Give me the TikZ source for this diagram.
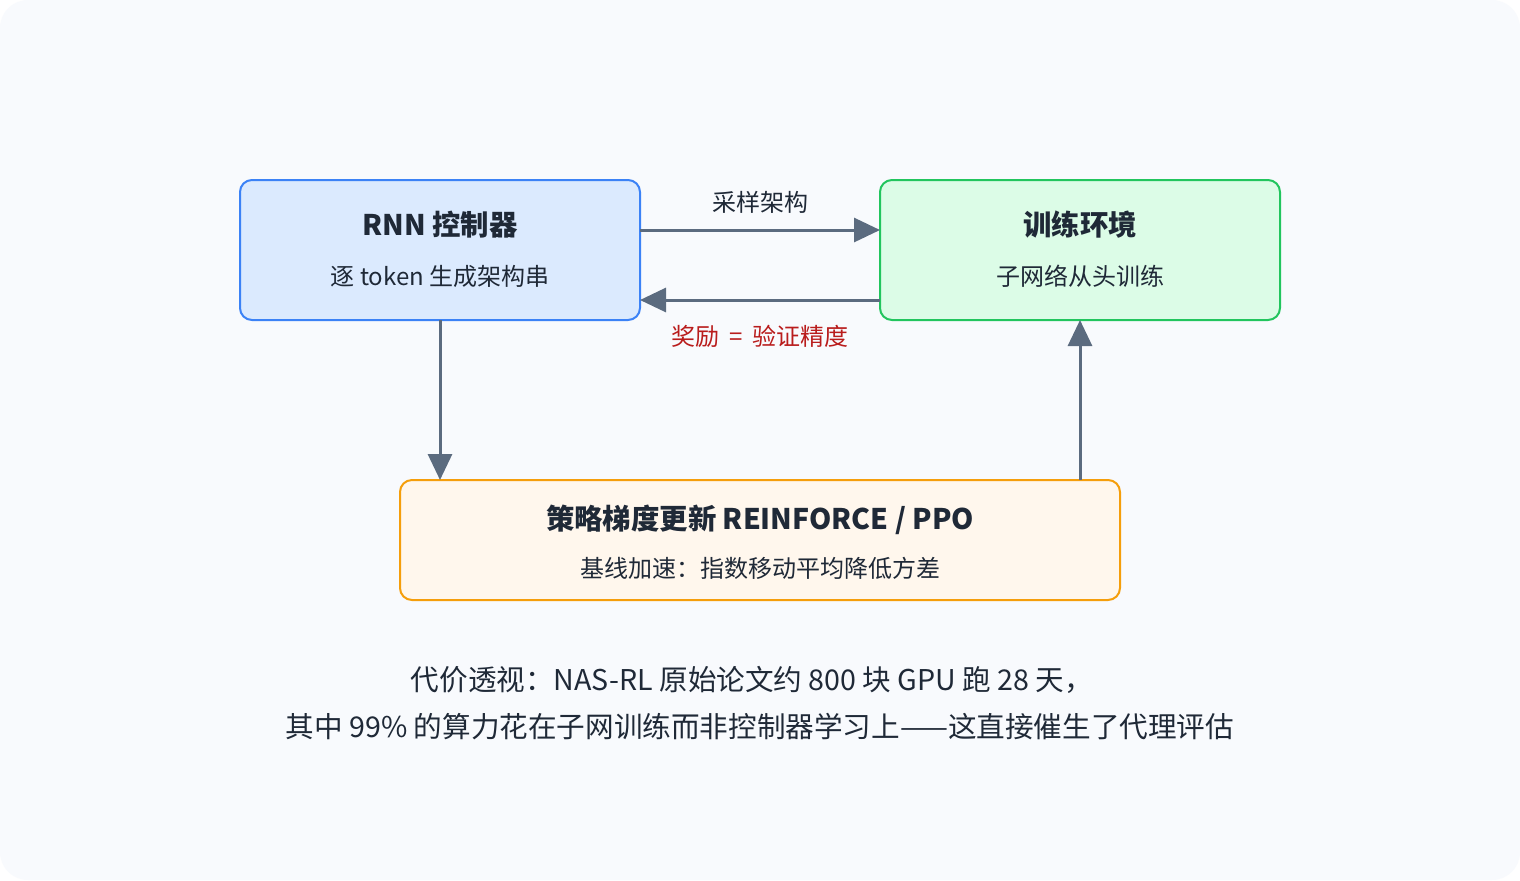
\documentclass[tikz,border=0pt]{standalone}
\usepackage{fontspec}
\setmainfont{Noto Sans CJK SC}
\usetikzlibrary{arrows.meta}
\definecolor{bg}{HTML}{F8FAFD}
\definecolor{arr}{HTML}{5B6B7F}
\definecolor{txt}{HTML}{1F2937}
\tikzset{
 box/.style={draw, line width=1pt, rounded corners=6pt},
 conn/.style={draw=arr, line width=1.5pt, -{Triangle[length=13pt,width=12pt]}},
 ttl/.style={font=\fontsize{14.2}{17}\selectfont\bfseries, text=txt},
 sub/.style={font=\fontsize{12}{14}\selectfont, text=txt},
 lbl/.style={font=\fontsize{12}{14}\selectfont, text=txt},
 foot/.style={font=\fontsize{14.3}{17}\selectfont, text=txt},
}
\begin{document}
\begin{tikzpicture}[x=0.5pt,y=-0.5pt]
\useasboundingbox (0,0) rectangle (1520,880);
\fill[white] (0,0) rectangle (1520,880);
\fill[bg, rounded corners=14pt] (0,0) rectangle (1520,880);
\node[box, draw={rgb,255:red,59;green,130;blue,246}, fill={rgb,255:red,219;green,234;blue,254}, minimum width=200pt, minimum height=70pt] (rnn) at (440,250) {};
\node[box, draw={rgb,255:red,34;green,197;blue,94}, fill={rgb,255:red,220;green,252;blue,231}, minimum width=200pt, minimum height=70pt] (env) at (1080,250) {};
\node[box, draw={rgb,255:red,245;green,158;blue,11}, fill={rgb,255:red,255;green,247;blue,237}, minimum width=360pt, minimum height=60pt] (pg) at (760,540) {};
\node[ttl] (t1) at (440,225) {RNN 控制器};
\node[sub] (s1) at (440,276) {逐 token 生成架构串};
\node[ttl] (t2) at (1080,225) {训练环境};
\node[sub] (s2) at (1080,276) {子网络从头训练};
\node[ttl] (t3) at (760,520) {策略梯度更新 REINFORCE / PPO};
\node[sub] (s3) at (760,568) {基线加速：指数移动平均降低方差};
\coordinate (a1) at (640,230); \coordinate (b1) at (880,230);
\coordinate (a2) at (880,300); \coordinate (b2) at (640,300);
\coordinate (a3) at (440,320); \coordinate (b3) at (440,480);
\coordinate (a4) at (1080,480); \coordinate (b4) at (1080,320);
\draw[conn] (a1) -- (b1);
\draw[conn] (a2) -- (b2);
\draw[conn] (a3) -- (b3);
\draw[conn] (a4) -- (b4);
\node[lbl] (l1) at (760,202) {采样架构};
\node[lbl, text={rgb,255:red,185;green,28;blue,28}] (l2) at (760,336) {奖励 \,=\, 验证精度};
\node[foot] (f1) at (752,680) {代价透视：NAS-RL 原始论文约 800 块 GPU 跑 28 天，};
\node[foot] (f2) at (760,727) {其中 99\% 的算力花在子网训练而非控制器学习上——这直接催生了代理评估};
\end{tikzpicture}
\end{document}
